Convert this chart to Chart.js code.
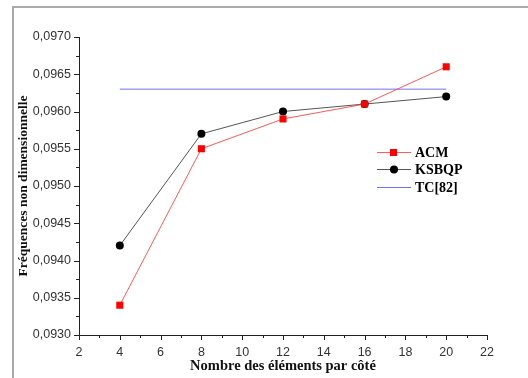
<!DOCTYPE html>
<html>
<head>
<meta charset="utf-8">
<script src="https://cdn.jsdelivr.net/npm/chart.js@4/dist/chart.umd.min.js"></script>
<style>
html, body { margin: 0; padding: 0; background: #fff; }
</style>
</head>
<body>
<canvas id="chart" width="528" height="378"></canvas>
<script>
// values
var elements = [4, 8, 12, 16, 20];
var acm = [0.0934, 0.0955, 0.0959, 0.0961, 0.0966];
var ksbqp = [0.0942, 0.0957, 0.0960, 0.0961, 0.0962];
var tcRange = [4, 20];
var tcValue = 0.0963;
var xTicks = [2, 4, 6, 8, 10, 12, 14, 16, 18, 20, 22];
var yTicks = [0.0930, 0.0935, 0.0940, 0.0945, 0.0950, 0.0955, 0.0960, 0.0965, 0.0970];

function toPoints(xs, ys) {
    var pts = [];
    for (var i = 0; i < xs.length; i++) pts.push({ x: xs[i], y: ys[i] });
    return pts;
}

var serif = "'Liberation Serif', 'Times New Roman', serif";
var sans = "'Liberation Sans', Arial, sans-serif";

// grey frame, minor/major tick marks and the legend box
var extras = {
    id: 'extras',
    beforeDraw: function (chart) {
        var ctx = chart.ctx;
        ctx.save();
        ctx.strokeStyle = '#aaaaaa';
        ctx.lineWidth = 2;
        ctx.beginPath();
        ctx.moveTo(13, 378);
        ctx.lineTo(13, 7);
        ctx.lineTo(528, 7);
        ctx.stroke();
        ctx.restore();
    },
    afterDraw: function (chart) {
        var ctx = chart.ctx;
        var xs = chart.scales.x, ys = chart.scales.y;
        var area = chart.chartArea;
        ctx.save();
        ctx.strokeStyle = '#222';
        ctx.lineWidth = 1;
        ctx.beginPath();
        for (var v = xTicks[0]; v <= xTicks[xTicks.length - 1]; v += 1) {
            var px = Math.round(xs.getPixelForValue(v)) + 0.5;
            var len = (v % 2 === 0) ? 5 : 3;
            ctx.moveTo(px, area.bottom);
            ctx.lineTo(px, area.bottom + len);
        }
        for (var i = 0; i <= (yTicks.length - 1) * 2; i++) {
            var val = yTicks[0] + i * 0.00025;
            var py = Math.round(ys.getPixelForValue(val)) + 0.5;
            var l = (i % 2 === 0) ? 5 : 3;
            ctx.moveTo(area.left, py);
            ctx.lineTo(area.left - l, py);
        }
        ctx.stroke();

        // legend
        var rows = [
            { label: 'ACM', line: 'rgba(255,60,60,0.85)', fill: '#ff0000', style: 'rect', y: 152 },
            { label: 'KSBQP', line: '#555555', fill: '#000000', style: 'circle', y: 169 },
            { label: 'TC[82]', line: '#7070ff', fill: null, style: null, y: 187 }
        ];
        rows.forEach(function (r) {
            ctx.strokeStyle = r.line;
            ctx.lineWidth = 1;
            ctx.beginPath();
            ctx.moveTo(377, r.y + 0.5);
            ctx.lineTo(411, r.y + 0.5);
            ctx.stroke();
            if (r.style === 'rect') {
                ctx.fillStyle = r.fill;
                ctx.fillRect(390, r.y - 3, 7, 7);
            } else if (r.style === 'circle') {
                ctx.fillStyle = r.fill;
                ctx.beginPath();
                ctx.arc(394, r.y + 0.5, 4, 0, Math.PI * 2);
                ctx.fill();
            }
            ctx.fillStyle = '#000';
            ctx.font = 'bold 14px ' + serif;
            ctx.textBaseline = 'middle';
            ctx.fillText(r.label, 415, r.y + 1);
        });
        ctx.restore();
    }
};

var ctx = document.getElementById('chart').getContext('2d');

var myLineChart = new Chart(ctx, {
    type: 'line',
    data: {
        datasets: [{
            label: 'ACM',
            data: toPoints(elements, acm),
            borderColor: 'rgba(255,60,60,0.85)',
            backgroundColor: '#ff0000',
            pointBackgroundColor: '#ff0000',
            pointBorderColor: '#ff0000',
            pointStyle: 'rect',
            pointRadius: 5,
            pointBorderWidth: 0,
            borderWidth: 1,
            tension: 0
        }, {
            label: 'KSBQP',
            data: toPoints(elements, ksbqp),
            borderColor: '#555555',
            backgroundColor: '#000000',
            pointBackgroundColor: '#000000',
            pointBorderColor: '#000000',
            pointStyle: 'circle',
            pointRadius: 4,
            pointBorderWidth: 0,
            borderWidth: 1,
            tension: 0
        }, {
            label: 'TC[82]',
            data: toPoints(tcRange, [tcValue, tcValue]),
            borderColor: '#7070ff',
            pointRadius: 0,
            borderWidth: 1
        }]
    },
    options: {
        responsive: false,
        animation: false,
        layout: { padding: { left: 12, top: 37, right: 41, bottom: 0 } },
        plugins: {
            legend: { display: false },
            tooltip: { enabled: false }
        },
        scales: {
            x: {
                type: 'linear',
                min: 2,
                max: 22,
                afterFit: function (s) { s.height = 43; },
                afterBuildTicks: function (s) {
                    s.ticks = xTicks.map(function (v) { return { value: v }; });
                },
                grid: { display: false, drawTicks: true, tickLength: 5 },
                border: { display: true, color: '#222', width: 1 },
                ticks: {
                    padding: 5,
                    color: '#333',
                    font: { family: sans, size: 12.5 },
                    maxRotation: 0
                },
                title: {
                    display: true,
                    text: 'Nombre des éléments par côté',
                    color: '#111',
                    font: { family: serif, size: 14.5, weight: 'bold' },
                    padding: { top: 0, bottom: 3 }
                }
            },
            y: {
                type: 'linear',
                min: 0.093,
                max: 0.097,
                afterFit: function (s) { s.width = 67; },
                afterBuildTicks: function (s) {
                    s.ticks = yTicks.map(function (v) { return { value: v }; });
                },
                grid: { display: false, drawTicks: true, tickLength: 5 },
                border: { display: true, color: '#222', width: 1 },
                ticks: {
                    padding: 3,
                    color: '#333',
                    font: { family: sans, size: 12.5 },
                    callback: function (v) { return v.toFixed(4).replace('.', ','); }
                },
                title: {
                    display: true,
                    text: 'Fréquences non dimensionnelle',
                    color: '#111',
                    font: { family: serif, size: 13.5, weight: 'bold' },
                    padding: { top: 3, bottom: 0 }
                }
            }
        }
    },
    plugins: [extras]
});
</script>
</body>
</html>
